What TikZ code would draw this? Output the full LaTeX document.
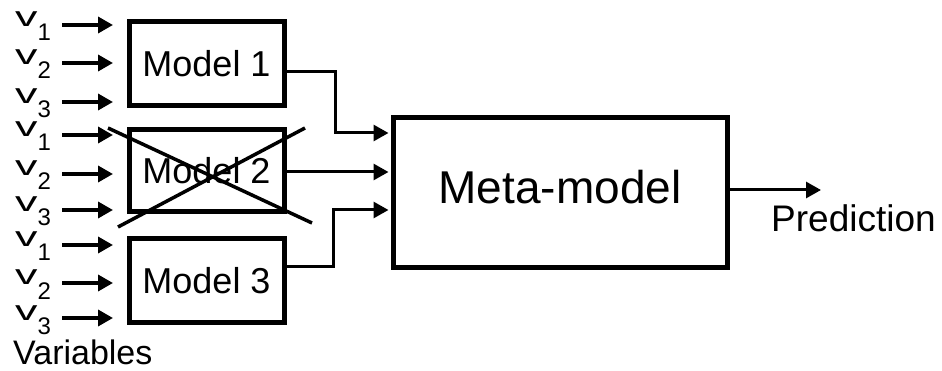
\documentclass[tikz,border=0pt]{standalone}
\usepackage{fontspec}
\setmainfont{Liberation Sans}
\usetikzlibrary{arrows.meta}
\begin{document}
\begin{tikzpicture}[x=1pt,y=-1pt,
  box/.style={draw, line width=5pt, minimum width=155pt, minimum height=84pt, inner sep=0pt, font=\fontsize{36}{40}\selectfont},
  arr/.style={line width=3.5pt, -{Triangle[length=15pt,width=16pt]}},
  conn/.style={line width=3pt, -{Triangle[length=15pt,width=16pt]}},
  vlab/.style={anchor=base west, inner sep=0pt, font=\fontsize{28}{30}\selectfont},
  sub/.style={anchor=base west, inner sep=0pt, font=\fontsize{24}{26}\selectfont},
  cross/.style={line width=3.5pt}]
\useasboundingbox (0,0) rectangle (942,371);
% models
\node[box] (m1) at (206.5,64) {Model 1};
\node[box, minimum height=82pt] (m2) at (206.5,171) {Model 2};
\node[box, minimum height=83pt] (m3) at (206.5,280.5) {Model 3};
\node[draw, line width=5pt, minimum width=334pt, minimum height=150pt, inner sep=0pt] (meta) at (560,193) {};
\node[inner sep=0pt, font=\fontsize{46}{50}\selectfont] (metat) at (560,187) {Meta-model};
% inputs
\foreach \g/\ya/\yb/\yc in {1/25/63/102, 2/135/174/210, 3/245/283/318}{
  \foreach \i/\y in {1/\ya, 2/\yb, 3/\yc}{
    \node[vlab] (v\g\i) at (15,\y+2) {\scalebox{1.6}[1]{v}};
    \node[sub] (s\g\i) at (37.5,\y+16) {\i};
    \coordinate (a\g\i) at (62,\y);
    \coordinate (t\g\i) at (113,\y);
    \draw[arr] (a\g\i) -- (t\g\i);
  }
}
% cross over model 2
\coordinate (c1) at (108,128);
\coordinate (c2) at (312,223);
\coordinate (c3) at (118,227);
\coordinate (c4) at (305,128);
\draw[cross] (c1) -- (c2);
\draw[cross] (c3) -- (c4);
% connectors to meta-model
\coordinate (b1) at (335,72);
\coordinate (b3) at (333,267);
\draw[conn] (m1.east |- b1) -- (b1) -- (335,133) -- ([xshift=-2pt]meta.west |- 0,133);
\draw[conn] (m2.east |- 0,172) -- ([xshift=-2pt]meta.west |- 0,172);
\draw[conn] (m3.east |- b3) -- (b3) -- (333,210) -- ([xshift=-2pt]meta.west |- 0,210);
% output
\coordinate (p) at (821,190);
\draw[conn] (meta.east |- p) -- (p);
\node[anchor=base west, inner sep=0pt, font=\fontsize{37}{40}\selectfont] (pred) at (771,232) {Prediction};
\node[anchor=base west, inner sep=0pt, font=\fontsize{34}{38}\selectfont] (vars) at (13,364) {Variables};
\end{tikzpicture}
\end{document}
